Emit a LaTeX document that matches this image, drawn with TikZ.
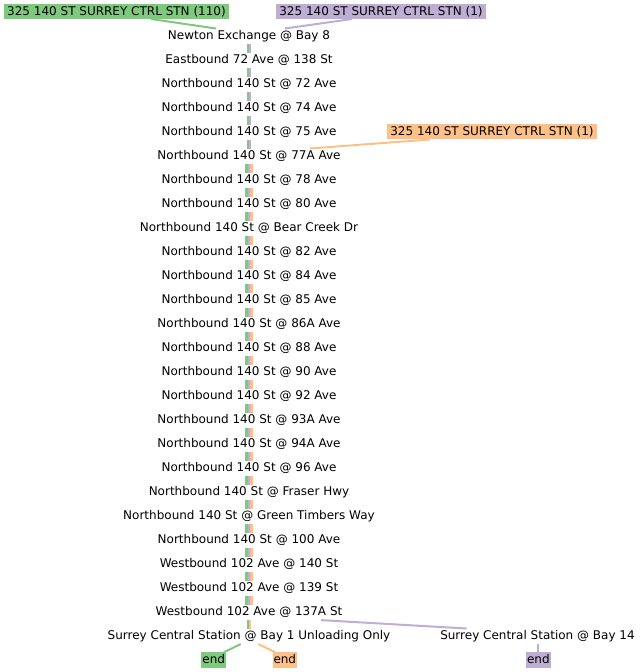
\documentclass[tikz,border=0pt]{standalone}
\usepackage{fontspec}
\setmainfont{DejaVu Sans}
\definecolor{cg}{HTML}{7FC97F}
\definecolor{cp}{HTML}{BEAED4}
\definecolor{co}{HTML}{FDC086}
\begin{document}
\begin{tikzpicture}[x=1pt,y=-1pt,
  stop/.style={font=\fontsize{12}{14}\selectfont, inner sep=0pt, text height=10.7pt, text depth=4.5pt, anchor=base},
  lbl/.style={font=\fontsize{12}{14}\selectfont, inner xsep=3pt, inner ysep=0.8pt, text height=10.5pt, text depth=3pt, anchor=base},
  seg/.style={line width=2.4pt},
  lnk/.style={line width=2pt}]
\useasboundingbox (0,0) rectangle (643,672);
% top labels
\node[lbl, fill=cg] (lg) at (116.5,15) {325 140 ST SURREY CTRL STN (110)};
\node[lbl, fill=cp] (lp) at (381,15) {325 140 ST SURREY CTRL STN (1)};
\node[lbl, fill=co] (lo) at (492,135.5) {325 140 ST SURREY CTRL STN (1)};
% stops
\node[stop] (r1) at (249,39.4) {Newton Exchange @ Bay 8};
\node[stop] (r2) at (249,63.4) {Eastbound 72 Ave @ 138 St};
\node[stop] (r3) at (249,87.4) {Northbound 140 St @ 72 Ave};
\node[stop] (r4) at (249,111.4) {Northbound 140 St @ 74 Ave};
\node[stop] (r5) at (249,135.4) {Northbound 140 St @ 75 Ave};
\node[stop] (r6) at (249,159.4) {Northbound 140 St @ 77A Ave};
\node[stop] (r7) at (249,183.4) {Northbound 140 St @ 78 Ave};
\node[stop] (r8) at (249,207.4) {Northbound 140 St @ 80 Ave};
\node[stop] (r9) at (249,231.4) {Northbound 140 St @ Bear Creek Dr};
\node[stop] (r10) at (249,255.4) {Northbound 140 St @ 82 Ave};
\node[stop] (r11) at (249,279.4) {Northbound 140 St @ 84 Ave};
\node[stop] (r12) at (249,303.4) {Northbound 140 St @ 85 Ave};
\node[stop] (r13) at (249,327.4) {Northbound 140 St @ 86A Ave};
\node[stop] (r14) at (249,351.4) {Northbound 140 St @ 88 Ave};
\node[stop] (r15) at (249,375.4) {Northbound 140 St @ 90 Ave};
\node[stop] (r16) at (249,399.4) {Northbound 140 St @ 92 Ave};
\node[stop] (r17) at (249,423.4) {Northbound 140 St @ 93A Ave};
\node[stop] (r18) at (249,447.4) {Northbound 140 St @ 94A Ave};
\node[stop] (r19) at (249,471.4) {Northbound 140 St @ 96 Ave};
\node[stop] (r20) at (249,495.4) {Northbound 140 St @ Fraser Hwy};
\node[stop] (r21) at (249,519.4) {Northbound 140 St @ Green Timbers Way};
\node[stop] (r22) at (249,543.4) {Northbound 140 St @ 100 Ave};
\node[stop] (r23) at (249,567.4) {Westbound 102 Ave @ 140 St};
\node[stop] (r24) at (249,591.4) {Westbound 102 Ave @ 139 St};
\node[stop] (r25) at (249,615.4) {Westbound 102 Ave @ 137A St};
\node[stop] (r26) at (249,639.4) {Surrey Central Station @ Bay 1 Unloading Only};
\node[stop] (b14) at (537.5,639.4) {Surrey Central Station @ Bay 14};
% ends
\node[lbl, fill=cg, inner xsep=1pt] (eg) at (213.8,663.75) {end};
\node[lbl, fill=co, inner xsep=1pt] (eo) at (284.8,663.75) {end};
\node[lbl, fill=cp, inner xsep=1pt] (ep) at (538.4,663.75) {end};
% start links
\draw[lnk, cg] ([xshift=34.5pt]lg.south) -- ([xshift=-33pt]r1.north);
\draw[lnk, cp] ([xshift=-29pt]lp.south) -- ([xshift=36pt]r1.north);
\draw[lnk, co] ([xshift=-62pt]lo.south) -- ([xshift=61pt]r6.north);
% two-colour segments
\foreach \a/\b in {r1/r2, r2/r3, r3/r4, r4/r5, r5/r6} {
  \draw[seg, cg] ([xshift=-1.25pt]\a.south) -- ([xshift=-1.25pt]\b.north);
  \draw[seg, cp] ([xshift=1.25pt]\a.south) -- ([xshift=1.25pt]\b.north);
}
% three-colour segments
\foreach \a/\b in {r6/r7, r7/r8, r8/r9, r9/r10, r10/r11, r11/r12, r12/r13, r13/r14, r14/r15, r15/r16, r16/r17, r17/r18, r18/r19, r19/r20, r20/r21, r21/r22, r22/r23, r23/r24, r24/r25} {
  \draw[seg, cg] ([xshift=-2.5pt]\a.south) -- ([xshift=-2.5pt]\b.north);
  \draw[seg, cp] (\a.south) -- (\b.north);
  \draw[seg, co] ([xshift=2.5pt]\a.south) -- ([xshift=2.5pt]\b.north);
}
% last segments
\draw[seg, cg] ([xshift=-1.25pt]r25.south) -- ([xshift=-1.25pt]r26.north);
\draw[seg, co] ([xshift=1.25pt]r25.south) -- ([xshift=1.25pt]r26.north);
\draw[lnk, cp] ([xshift=72pt]r25.south) -- ([xshift=-71pt]b14.north);
% end links
\draw[lnk, cg] ([xshift=-8.3pt]r26.south) -- ([xshift=-2.5pt]eg.north east);
\draw[lnk, co] ([xshift=9.3pt]r26.south) -- ([xshift=3pt]eo.north west);
\draw[lnk, cp] (ep.north) -- (ep.north |- b14.south);
\end{tikzpicture}
\end{document}
